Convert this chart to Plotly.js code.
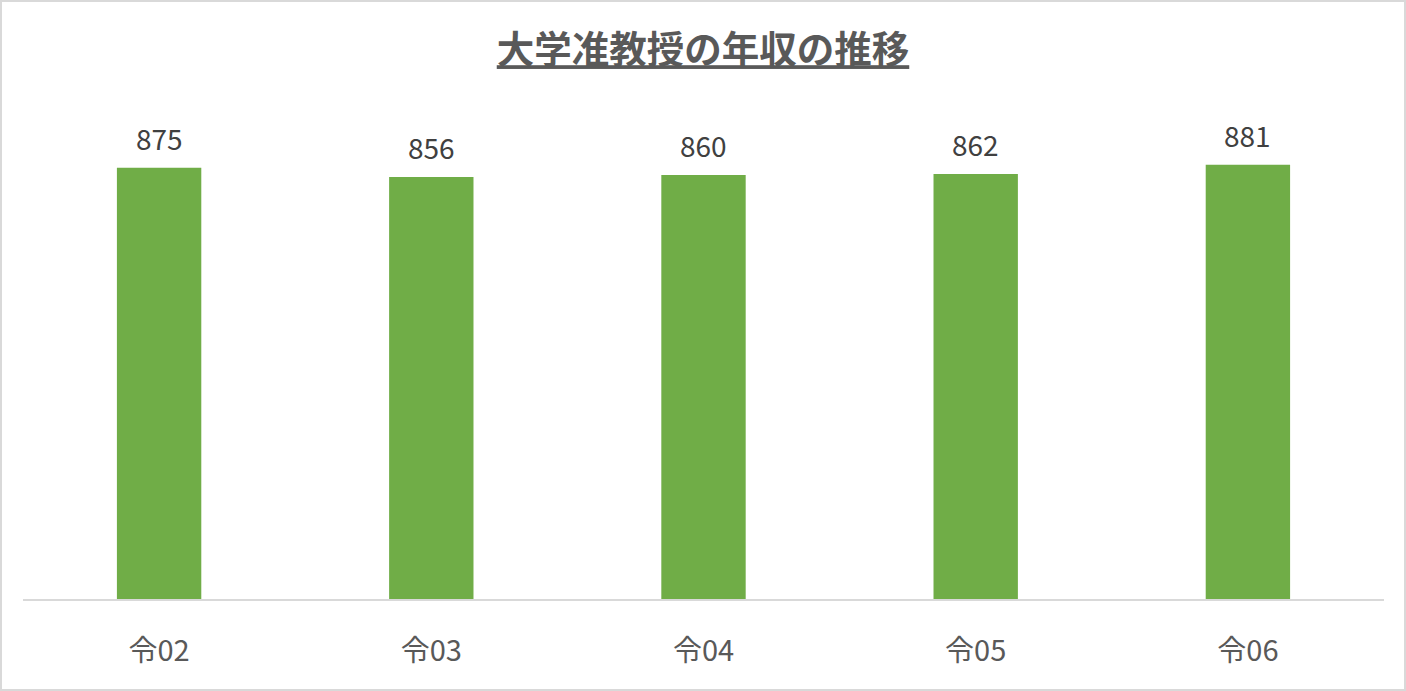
<!DOCTYPE html>
<html>
<head>
<meta charset="utf-8">
<script src="https://cdn.plot.ly/plotly-3.0.1.min.js"></script>
<style>
  html, body { margin: 0; padding: 0; background: #fff; }
  #renderTarget { width: 1402px; height: 687px; border: 2px solid #d9d9d9; }
</style>
</head>
<body>
<div id="renderTarget"></div>
<script>
// 年度と年収（万円）
const years = ["令02", "令03", "令04", "令05", "令06"];
const salary = [875, 856, 860, 862, 881];

const baseFont = "'Noto Sans CJK JP', 'Noto Sans', sans-serif";

const data = [{
    x: years,
    y: salary,
    type: "bar",
    marker: { color: "#70AD47" },
    hoverinfo: "x+y",
}];

// value labels above each bar
const labels = years.map((yr, i) => ({
    x: yr,
    y: salary[i],
    text: String(salary[i]),
    showarrow: false,
    yanchor: "middle",
    yshift: 30,
    font: { family: baseFont, size: 28, color: "#404040" },
}));

const layout = {
    width: 1402,
    height: 687,
    margin: { l: 21, r: 20, t: 104, b: 90 },
    paper_bgcolor: "#fff",
    plot_bgcolor: "#fff",
    title: {
        text: "<b>大学准教授の年収の推移</b>",
        x: 0.5,
        xanchor: "center",
        y: 0.93,
        yanchor: "middle",
        font: { family: baseFont, size: 37.5, color: "#595959", lineposition: "under" },
    },
    bargap: 0.69,
    xaxis: {
        type: "category",
        showline: true,
        linecolor: "#d9d9d9",
        linewidth: 2,
        ticks: "",
        tickfont: { family: baseFont, size: 29, color: "#595959" },
        ticklabelstandoff: 25,
    },
    yaxis: {
        range: [0, 1000],
        visible: false,
        showgrid: false,
        zeroline: false,
    },
    annotations: labels,
    showlegend: false,
};

Plotly.newPlot("renderTarget", data, layout, { displayModeBar: false });
</script>
</body>
</html>
